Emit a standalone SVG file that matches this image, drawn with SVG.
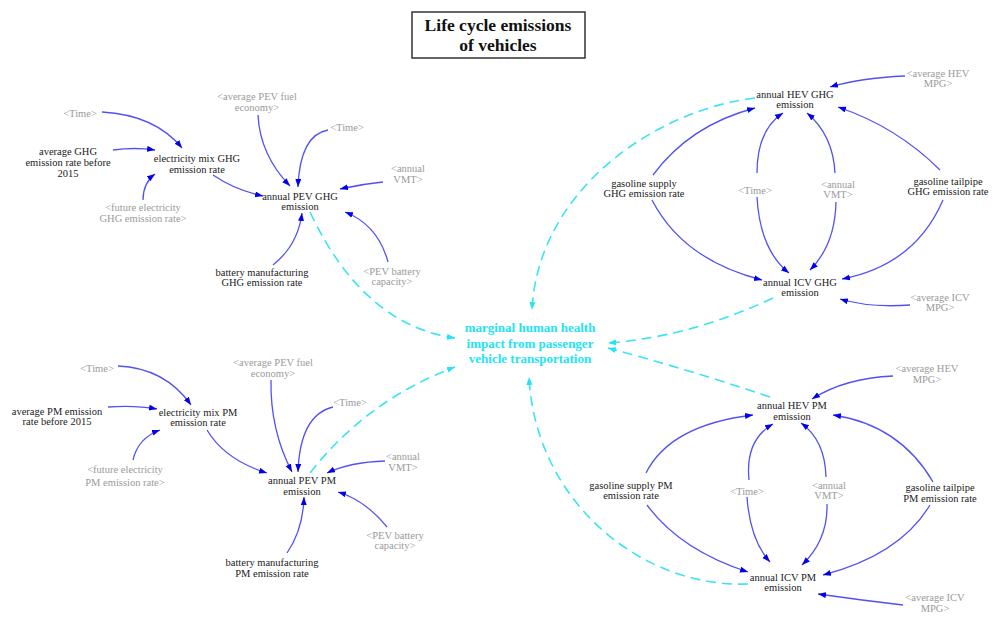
<svg xmlns="http://www.w3.org/2000/svg" width="993" height="617" viewBox="0 0 993 617">
<style>
text{font-family:"Liberation Serif","Times New Roman",serif;text-anchor:middle}
.b{font-size:10.5px;fill:#222}
.g{font-size:10.5px;fill:#9a9a9a}
.m{font-size:13px;font-weight:bold;fill:#22e4f4}
.t{font-size:17.5px;font-weight:bold;fill:#111}
.l{fill:none;stroke:#5252f2;stroke-width:1.3;marker-end:url(#ab)}
.c{fill:none;stroke:#3ae4f2;stroke-width:1.6;stroke-dasharray:10 6;marker-end:url(#ac)}
</style>
<defs>
<marker id="ab" markerWidth="9" markerHeight="7" refX="8" refY="3" orient="auto" markerUnits="userSpaceOnUse"><path d="M0,0 L8,3 L0,6 z" fill="#0000ee"/></marker>
<marker id="ac" markerWidth="9" markerHeight="7" refX="8" refY="3" orient="auto" markerUnits="userSpaceOnUse"><path d="M0,0 L8,3 L0,6 z" fill="#22e4f4"/></marker>
</defs>
<rect width="993" height="617" fill="#fff"/>
<g id="title"><rect x="412" y="12" width="173" height="46" fill="#fff" stroke="#333" stroke-width="1.5"/><text class="t" x="498" y="31">Life cycle emissions</text><text class="t" x="498" y="51">of vehicles</text></g>

<g id="connectors">
<path class="l" d="M102,112 Q155,115 182,148"/>
<path class="l" d="M113,150 Q135,147 155,150"/>
<path class="l" d="M143,200 Q143,183 155,174"/>
<path class="l" d="M213,175 Q235,190 263,196"/>
<path class="l" d="M258,115 Q260,155 290,186"/>
<path class="l" d="M328,130 Q300,135 298,187"/>
<path class="l" d="M383,182 Q362,184 340,189"/>
<path class="l" d="M388,262 Q378,225 345,212"/>
<path class="l" d="M273,265 Q298,245 302,213"/>
<path class="l" d="M118,366 Q165,368 191,405"/>
<path class="l" d="M108,407 Q135,405 157,409"/>
<path class="l" d="M133,460 Q138,438 160,430"/>
<path class="l" d="M207,430 Q225,460 267,473"/>
<path class="l" d="M271,380 Q270,430 292,472"/>
<path class="l" d="M333,407 Q300,415 298,472"/>
<path class="l" d="M385,461 Q350,462 327,473"/>
<path class="l" d="M387,527 Q365,500 338,492"/>
<path class="l" d="M287,553 Q303,530 304,497"/>
<path class="l" d="M905,76 Q860,78 830,87"/>
<path class="l" d="M653,175 Q690,125 755,108"/>
<path class="l" d="M757,173 Q757,130 783,113"/>
<path class="l" d="M835,173 Q833,135 807,113"/>
<path class="l" d="M940,170 Q897,127 838,107"/>
<path class="l" d="M652,200 Q683,260 762,280"/>
<path class="l" d="M757,197 Q760,250 789,273"/>
<path class="l" d="M836,202 Q835,245 810,270"/>
<path class="l" d="M943,200 Q915,265 842,279"/>
<path class="l" d="M910,305 Q870,308 840,299"/>
<path class="l" d="M893,376 Q845,378 812,399"/>
<path class="l" d="M646,473 Q670,425 753,415"/>
<path class="l" d="M749,480 Q745,440 773,424"/>
<path class="l" d="M826,477 Q825,440 801,423"/>
<path class="l" d="M933,482 Q900,425 833,415"/>
<path class="l" d="M647,505 Q680,550 748,572"/>
<path class="l" d="M747,497 Q750,540 770,562"/>
<path class="l" d="M827,504 Q828,540 802,565"/>
<path class="l" d="M930,505 Q900,555 823,575"/>
<path class="l" d="M903,605 Q860,600 818,594"/>
<path class="c" d="M310,212 Q363,325 455,338"/>
<path class="c" d="M310,473 Q367,400 455,367"/>
<path class="c" d="M755,98 C655,110 538,190 532,310"/>
<path class="c" d="M773,298 Q690,337 608,343"/>
<path class="c" d="M770,397 Q690,370 608,348"/>
<path class="c" d="M748,584 C640,588 535,500 529,377"/>
</g>

<g id="marginal"><text class="m" x="530" y="332">marginal human health</text><text class="m" x="530" y="348">impact from passenger</text><text class="m" x="530" y="363">vehicle transportation</text></g>

<g id="tl-time1"><text class="g" x="80" y="117">&lt;Time&gt;</text></g>
<g id="avg-ghg"><text class="b" x="68" y="155">average GHG</text><text class="b" x="68" y="166">emission rate before</text><text class="b" x="68" y="177">2015</text></g>
<g id="elec-ghg"><text class="b" x="197" y="162">electricity mix GHG</text><text class="b" x="197" y="173">emission rate</text></g>
<g id="fut-ghg"><text class="g" x="143" y="211">&lt;future electricity</text><text class="g" x="143" y="222">GHG emission rate&gt;</text></g>
<g id="tl-fuel"><text class="g" x="257" y="100">&lt;average PEV fuel</text><text class="g" x="257" y="111">economy&gt;</text></g>
<g id="tl-time2"><text class="g" x="347" y="131">&lt;Time&gt;</text></g>
<g id="tl-vmt"><text class="g" x="408" y="172">&lt;annual</text><text class="g" x="408" y="183">VMT&gt;</text></g>
<g id="pev-ghg"><text class="b" x="300" y="200">annual PEV GHG</text><text class="b" x="300" y="210">emission</text></g>
<g id="bat-ghg"><text class="b" x="262" y="276">battery manufacturing</text><text class="b" x="262" y="286">GHG emission rate</text></g>
<g id="tl-bat"><text class="g" x="392" y="275">&lt;PEV battery</text><text class="g" x="392" y="285">capacity&gt;</text></g>

<g id="bl-time1"><text class="g" x="97" y="372">&lt;Time&gt;</text></g>
<g id="avg-pm"><text class="b" x="57" y="415">average PM emission</text><text class="b" x="57" y="425">rate before 2015</text></g>
<g id="elec-pm"><text class="b" x="198" y="416">electricity mix PM</text><text class="b" x="198" y="426">emission rate</text></g>
<g id="fut-pm"><text class="g" x="125" y="473">&lt;future electricity</text><text class="g" x="125" y="486">PM emission rate&gt;</text></g>
<g id="bl-fuel"><text class="g" x="273" y="366">&lt;average PEV fuel</text><text class="g" x="273" y="377">economy&gt;</text></g>
<g id="bl-time2"><text class="g" x="350" y="406">&lt;Time&gt;</text></g>
<g id="bl-vmt"><text class="g" x="403" y="460">&lt;annual</text><text class="g" x="403" y="471">VMT&gt;</text></g>
<g id="pev-pm"><text class="b" x="302" y="484">annual PEV PM</text><text class="b" x="302" y="495">emission</text></g>
<g id="bl-bat"><text class="g" x="395" y="539">&lt;PEV battery</text><text class="g" x="395" y="549">capacity&gt;</text></g>
<g id="bat-pm"><text class="b" x="272" y="566">battery manufacturing</text><text class="b" x="272" y="577">PM emission rate</text></g>

<g id="hev-ghg"><text class="b" x="795" y="98">annual HEV GHG</text><text class="b" x="795" y="108">emission</text></g>
<g id="tr-hevmpg"><text class="g" x="938" y="77">&lt;average HEV</text><text class="g" x="938" y="87">MPG&gt;</text></g>
<g id="gs-ghg"><text class="b" x="644" y="187">gasoline supply</text><text class="b" x="644" y="197">GHG emission rate</text></g>
<g id="tr-time"><text class="g" x="755" y="194">&lt;Time&gt;</text></g>
<g id="tr-vmt"><text class="g" x="838" y="188">&lt;annual</text><text class="g" x="838" y="198">VMT&gt;</text></g>
<g id="gt-ghg"><text class="b" x="948" y="185">gasoline tailpipe</text><text class="b" x="948" y="195">GHG emission rate</text></g>
<g id="icv-ghg"><text class="b" x="800" y="286">annual ICV GHG</text><text class="b" x="800" y="296">emission</text></g>
<g id="tr-icvmpg"><text class="g" x="940" y="301">&lt;average ICV</text><text class="g" x="940" y="311">MPG&gt;</text></g>

<g id="hev-pm"><text class="b" x="792" y="409">annual HEV PM</text><text class="b" x="792" y="420">emission</text></g>
<g id="br-hevmpg"><text class="g" x="927" y="372">&lt;average HEV</text><text class="g" x="927" y="383">MPG&gt;</text></g>
<g id="gs-pm"><text class="b" x="631" y="489">gasoline supply PM</text><text class="b" x="631" y="499">emission rate</text></g>
<g id="br-time"><text class="g" x="747" y="495">&lt;Time&gt;</text></g>
<g id="br-vmt"><text class="g" x="829" y="489">&lt;annual</text><text class="g" x="829" y="499">VMT&gt;</text></g>
<g id="gt-pm"><text class="b" x="940" y="491">gasoline tailpipe</text><text class="b" x="940" y="502">PM emission rate</text></g>
<g id="icv-pm"><text class="b" x="783" y="581">annual ICV PM</text><text class="b" x="783" y="591">emission</text></g>
<g id="br-icvmpg"><text class="g" x="935" y="601">&lt;average ICV</text><text class="g" x="935" y="612">MPG&gt;</text></g>
</svg>
